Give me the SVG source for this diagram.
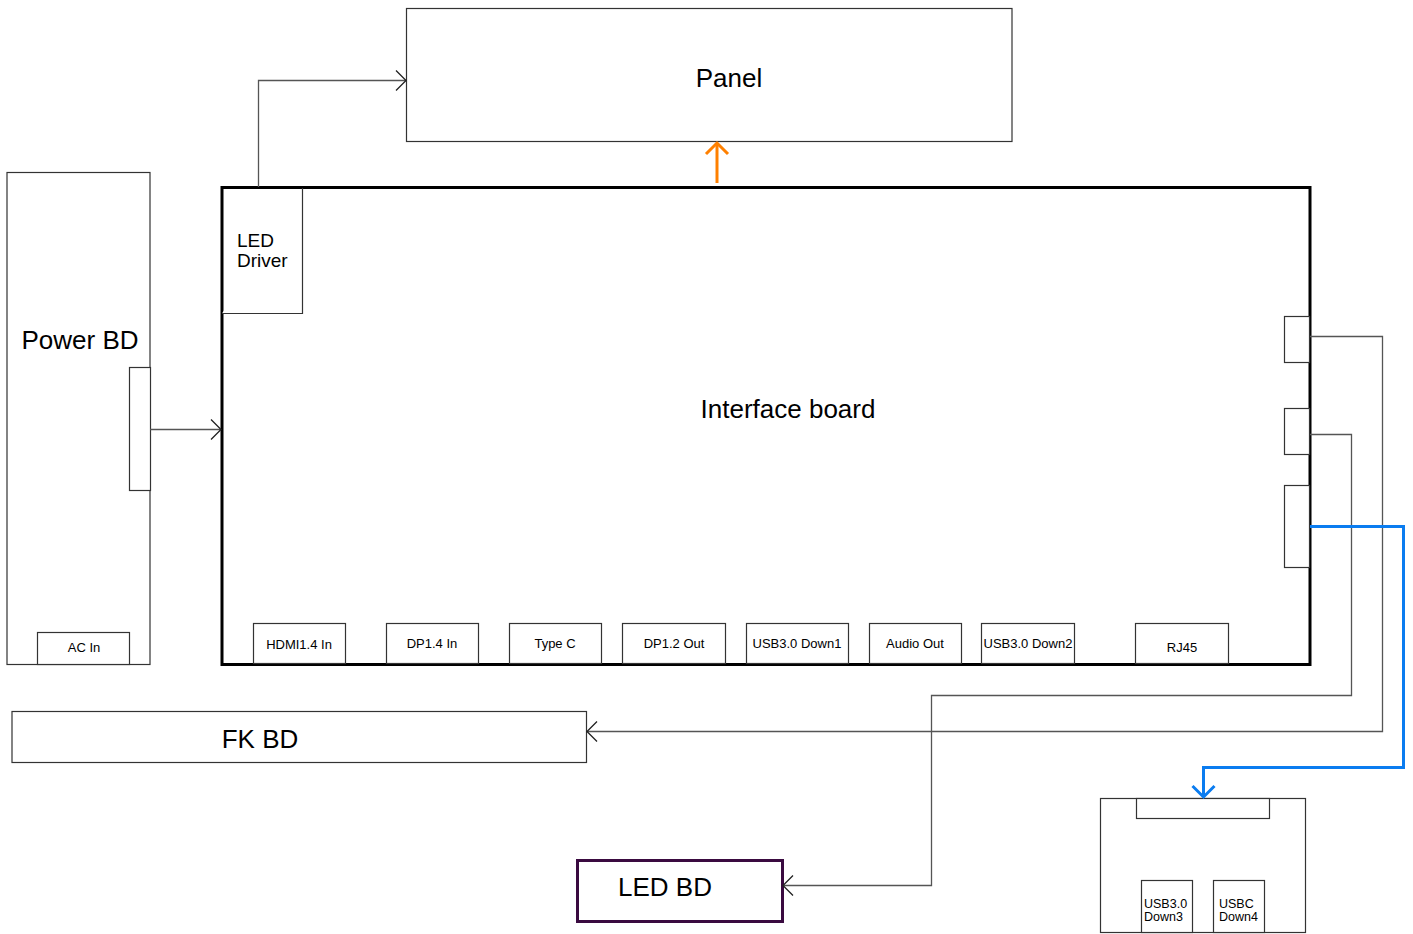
<svg xmlns="http://www.w3.org/2000/svg" width="1413" height="934" viewBox="0 0 1413 934">
<style>
.box{fill:#fff;stroke:#333;stroke-width:1.2}
.thick{fill:none;stroke:#000;stroke-width:3}
.t{font-family:"Liberation Sans",Arial,sans-serif;fill:#000}
.big{font-size:26px}
.sm{font-size:13px}
.conn{fill:none;stroke:#555;stroke-width:1.3}
</style>
<defs>
<marker id="ah" markerUnits="userSpaceOnUse" markerWidth="14" markerHeight="24" refX="12" refY="12" orient="auto" viewBox="0 0 14 24">
<path d="M2,2 L12,12 L2,22" fill="none" stroke="#222" stroke-width="1.3"/>
</marker>
<marker id="ahO" markerUnits="userSpaceOnUse" markerWidth="16" markerHeight="26" refX="13" refY="13" orient="auto" viewBox="0 0 16 26">
<path d="M2,2 L13,13 L2,24" fill="none" stroke="#ff8000" stroke-width="3"/>
</marker>
<marker id="ahB" markerUnits="userSpaceOnUse" markerWidth="16" markerHeight="26" refX="13" refY="13" orient="auto" viewBox="0 0 16 26">
<path d="M2,2 L13,13 L2,24" fill="none" stroke="#0a7cf0" stroke-width="3"/>
</marker>
</defs>

<g id="panel">
<rect class="box" x="406.5" y="8.5" width="605.5" height="133"/>
<text class="t big" x="729" y="87" text-anchor="middle">Panel</text>
</g>

<g id="power-bd">
<rect class="box" x="7" y="172.5" width="143" height="492"/>
<text class="t big" x="80" y="349" text-anchor="middle">Power BD</text>
<rect class="box" x="129.5" y="367.5" width="21" height="123"/>
<rect class="box" x="37.5" y="632.5" width="92" height="32"/>
<text class="t sm" x="84" y="652" text-anchor="middle">AC In</text>
</g>

<g id="interface-board">
<rect class="thick" x="222" y="187.5" width="1088" height="477"/>
<text class="t big" x="788" y="418" text-anchor="middle">Interface board</text>
</g>

<g id="led-driver">
<path class="box" d="M222,313.5 H302.5 V188" fill="none"/>
<text class="t" font-size="19" x="237" y="247">LED</text>
<text class="t" font-size="19" x="237" y="267">Driver</text>
</g>

<g id="ports">
<rect class="box" x="253.5" y="623.5" width="92" height="40"/>
<text class="t sm" x="299" y="649" text-anchor="middle">HDMI1.4 In</text>
<rect class="box" x="386.5" y="623.5" width="92" height="40"/>
<text class="t sm" x="432" y="648" text-anchor="middle">DP1.4 In</text>
<rect class="box" x="509.5" y="623.5" width="92" height="40"/>
<text class="t sm" x="555" y="648" text-anchor="middle">Type C</text>
<rect class="box" x="622.5" y="623.5" width="103" height="40"/>
<text class="t sm" x="674" y="648" text-anchor="middle">DP1.2 Out</text>
<rect class="box" x="746.5" y="623.5" width="102" height="40"/>
<text class="t sm" x="797" y="648" text-anchor="middle">USB3.0 Down1</text>
<rect class="box" x="869.5" y="623.5" width="92" height="40"/>
<text class="t sm" x="915" y="648" text-anchor="middle">Audio Out</text>
<rect class="box" x="981.5" y="623.5" width="93" height="40"/>
<text class="t sm" x="1028" y="648" text-anchor="middle">USB3.0 Down2</text>
<rect class="box" x="1135.5" y="623.5" width="93" height="40"/>
<text class="t sm" x="1182" y="652" text-anchor="middle">RJ45</text>
</g>

<g id="right-ports">
<rect class="box" x="1284.5" y="316.5" width="25" height="46"/>
<rect class="box" x="1284.5" y="408.5" width="25" height="46"/>
<rect class="box" x="1284.5" y="485.5" width="25" height="82"/>
</g>

<g id="fk-bd">
<rect class="box" x="12" y="711.5" width="574.5" height="51"/>
<text class="t big" x="260" y="748" text-anchor="middle">FK BD</text>
</g>

<g id="led-bd">
<rect x="577.5" y="860.5" width="205" height="61" fill="#fff" stroke="#3a0a40" stroke-width="3"/>
<text class="t big" x="665" y="896" text-anchor="middle">LED BD</text>
</g>

<g id="usb-bd">
<rect class="box" x="1100.5" y="798.5" width="205" height="134"/>
<rect class="box" x="1136.5" y="798.5" width="133" height="20"/>
<rect class="box" x="1141.5" y="880.5" width="51" height="52"/>
<text class="t" font-size="12.5" x="1144" y="908">USB3.0</text>
<text class="t" font-size="12.5" x="1144" y="921">Down3</text>
<rect class="box" x="1213.5" y="880.5" width="51" height="52"/>
<text class="t" font-size="12.5" x="1219" y="908">USBC</text>
<text class="t" font-size="12.5" x="1219" y="921">Down4</text>
</g>

<g id="connectors">
<path class="conn" d="M258.5,187 V80.5 H406" marker-end="url(#ah)"/>
<path d="M717,183 V143" fill="none" stroke="#ff8000" stroke-width="3" marker-end="url(#ahO)"/>
<path class="conn" d="M150,429.5 H221" marker-end="url(#ah)"/>
<path class="conn" d="M1310,336.5 H1382.5 V731.5 H587" marker-end="url(#ah)"/>
<path class="conn" d="M1310,434.5 H1351.5 V695.5 H931.5 V885.5 H783" marker-end="url(#ah)"/>
<path d="M1310,526.5 H1403.5 V767.5 H1203.5 V797" fill="none" stroke="#0a7cf0" stroke-width="3" marker-end="url(#ahB)"/>
</g>
</svg>
